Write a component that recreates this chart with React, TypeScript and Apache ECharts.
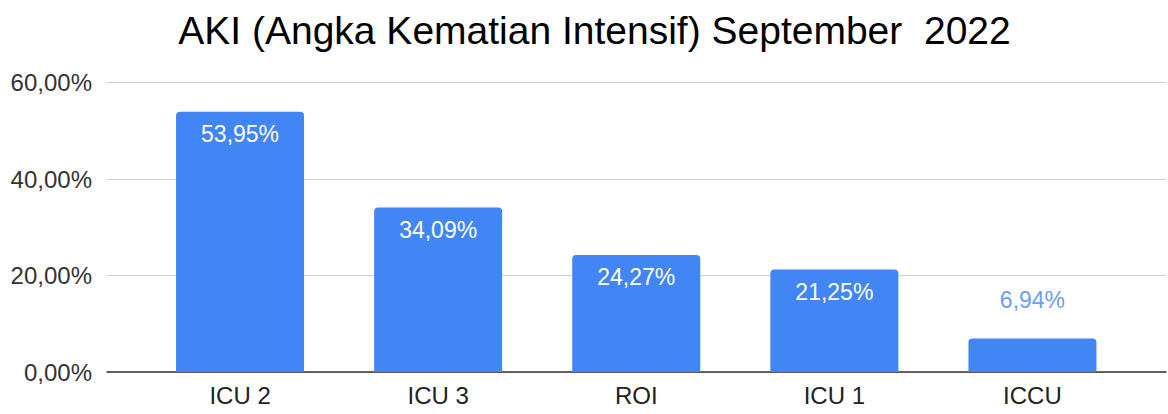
import React, { useEffect, useRef } from "react";
import * as echarts from "echarts";

const categories = ["ICU 2", "ICU 3", "ROI", "ICU 1", "ICCU"];
const values = [53.95, 34.09, 24.27, 21.25, 6.94];
const yTicks = [0, 20, 40, 60];
const titleText = "AKI (Angka Kematian Intensif) September  2022";

const FONT = "'Liberation Sans', Arial, sans-serif";
const fmt = (v: number) => v.toFixed(2).replace(".", ",") + "%";

export default function App() {
  const ref = useRef<HTMLDivElement>(null);
  useEffect(() => {
    if (!ref.current) return;
    const chart = echarts.init(ref.current, undefined, { renderer: "svg" });
    const smallIdx = values.map((v) => v < 10);
    chart.setOption({
      animation: false,
      backgroundColor: "#ffffff",
      title: {
        text: titleText,
        left: 589.5,
        textAlign: "center",
        top: 6,
        textStyle: { fontFamily: FONT, fontSize: 39, fontWeight: "normal", color: "#000" },
      },
      grid: [
        { left: 107, right: 2, top: 82.5, bottom: 42, containLabel: false },
        { left: 141, right: 36.5, top: 82.5, bottom: 42, containLabel: false },
      ],
      xAxis: [
        {
          type: "value",
          gridIndex: 0,
          min: 0,
          max: 1,
          axisLabel: { show: false },
          axisTick: { show: false },
          splitLine: { show: false },
          axisLine: { show: true, onZero: false, lineStyle: { color: "#333", width: 1.5 } },
        },
        {
          type: "category",
          gridIndex: 1,
          data: categories,
          axisLine: { show: false },
          axisTick: { show: false },
          axisLabel: { fontFamily: FONT, fontSize: 24, color: "#222", margin: 11 },
        },
      ],
      yAxis: [
        {
          type: "value",
          gridIndex: 0,
          min: yTicks[0],
          max: yTicks[yTicks.length - 1],
          interval: 20,
          axisLine: { show: false },
          axisTick: { show: false },
          axisLabel: { fontFamily: FONT, fontSize: 24, color: "#333", margin: 15, formatter: (v: number) => fmt(v) },
          splitLine: { show: true, lineStyle: { color: "#d0d0d0", width: 1 } },
        },
        {
          type: "value",
          gridIndex: 1,
          min: yTicks[0],
          max: yTicks[yTicks.length - 1],
          show: false,
        },
      ],
      series: [
        {
          type: "bar",
          xAxisIndex: 1,
          yAxisIndex: 1,
          barWidth: 128,
          data: values.map((v, i) => ({
            value: v,
            label: smallIdx[i]
              ? { position: "top", distance: 27, color: "#6d9ef6" }
              : { position: "insideTop", distance: 11, color: "#ffffff" },
          })),
          itemStyle: { color: "#4285f4", borderRadius: [4, 4, 0, 0] },
          label: {
            show: true,
            fontFamily: FONT,
            fontSize: 23,
            formatter: (p: any) => fmt(p.value),
          },
        },
      ],
    });
    return () => chart.dispose();
  }, []);
  return (
    <div
      ref={ref}
      style={{ position: "fixed", left: 0, top: 0, width: 1168, height: 414 }}
    />
  );
}
